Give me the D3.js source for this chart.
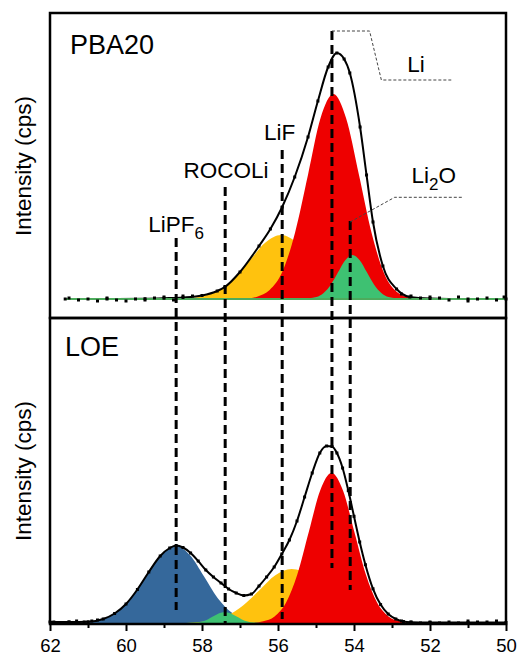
<!DOCTYPE html>
<html>
<head>
<meta charset="utf-8">
<script src="https://cdn.jsdelivr.net/npm/d3@7"></script>
<style>
  body { margin: 0; background: #fff; }
  text { font-family: "Liberation Sans", Arial, sans-serif; fill: #000; }
</style>
</head>
<body>
<div id="chart"></div>
<script>
// [binding energy (eV), intensity] pairs (arbitrary cps units)

// PBA20 - fitted components
const lifTop = [[58.79,0],[58.38,0.7],[57.97,2.8],[57.56,8.7],[57.15,20.8],[56.74,38.8],[56.33,56.5],[55.92,64],[55.51,56.5],[55.10,38.8],[54.69,20.8],[54.28,8.7],[53.87,2.8],[53.46,0.7],[53.05,0]];
const liTop = [[56.89,0],[56.55,2.3],[56.22,9],[55.88,27.7],[55.55,66.6],[55.21,124.3],[54.88,180.9],[54.54,205],[54.21,180.9],[53.87,124.3],[53.54,66.6],[53.20,25],[52.87,7],[52.53,1.5],[52.19,0]];
const li2oTop = [[55.37,0],[54.99,1.9],[54.80,6],[54.61,14.3],[54.42,26.7],[54.23,38.8],[54.04,44],[53.85,38.8],[53.66,26.7],[53.47,14.3],[53.28,6],[53.09,1.9],[52.71,0]];
// PBA20 - envelope
const fitTop = [[61.6,0],[60.5,0],[59.5,0.3],[59.0,0.8],[58.5,1.5],[58.0,3.5],[57.6,8],[57.4,12],[57.0,27],[56.5,53],[56.2,70],[55.89,92],[55.56,122],[55.21,162],[54.95,198],[54.68,232],[54.45,246],[54.26,240],[54.11,226],[53.84,172],[53.67,124],[53.5,77],[53.24,33],[52.88,10],[52.53,2],[52.0,0.5],[51.0,0],[50.0,0]];
// PBA20 - noisy raw counts in the flat regions
const rawTop = [[61.5,1],[61.25,-1],[61.0,0],[60.75,-2],[60.5,1],[60.25,-1],[60.0,-2],[59.75,0],[59.5,-1],[59.25,1],[59.0,2],[58.75,-1],[58.5,3],[58.25,3],[52.75,5],[52.5,3],[52.25,1],[52.0,2],[51.75,1],[51.5,-1],[51.25,2],[51.0,-2],[50.75,0],[50.5,1],[50.25,-1],[50.05,2]];

// LOE - fitted components
const lipf6Bot = [[61.45,0],[61.05,0.85],[60.66,3.4],[60.26,10.4],[59.87,25],[59.47,46.7],[59.08,68],[58.68,77],[58.32,68],[57.95,46.7],[57.59,25],[57.22,10.4],[56.86,3.4],[56.49,0.9],[56.13,0]];
const rocoliBot = [[58.45,0],[58.15,0.5],[58.0,1.5],[57.85,3.6],[57.7,6.7],[57.55,9.7],[57.4,11],[57.25,9.7],[57.1,6.7],[56.95,3.6],[56.8,1.5],[56.65,0.5],[56.35,0]];
const lifBot = [[58.62,0],[58.19,0.6],[57.77,2.4],[57.34,7.3],[56.92,17.5],[56.49,32.8],[56.07,47.7],[55.64,54],[55.14,47.7],[54.64,32.8],[54.14,17.5],[53.64,7.3],[53.14,2.4],[52.64,0.6],[52.14,0]];
const liBot = [[56.69,0],[56.39,1.7],[56.09,6.6],[55.79,20.3],[55.49,48.7],[55.19,91],[54.89,132.4],[54.59,150],[54.29,132.4],[53.99,91],[53.69,48.7],[53.39,20.3],[53.09,6.6],[52.79,1.7],[52.49,0]];
// LOE - envelope
const fitBot = [[62.0,1],[61.5,1],[61.0,1.2],[60.6,4],[60.3,9.5],[60.0,19],[59.7,33.5],[59.4,51],[59.1,67],[58.85,75],[58.68,77.5],[58.5,75.5],[58.3,70],[58.1,62],[57.9,53],[57.7,46],[57.5,40],[57.3,34],[57.1,30],[56.9,27.5],[56.7,29],[56.5,37],[56.3,46],[56.1,56],[55.9,69],[55.7,83],[55.5,102],[55.3,126],[55.1,150],[54.9,170],[54.72,177],[54.58,176.5],[54.45,170],[54.3,155],[54.15,132.4],[54.0,106.7],[53.85,81],[53.7,58.3],[53.5,34.2],[53.3,18.4],[53.1,9],[52.9,4],[52.7,1.5],[52.5,0.8],[52.0,0.5],[51.0,0.5],[50.0,0.5]];
const rawBot = [[61.9,1],[61.7,0],[61.5,1],[61.3,2],[61.1,1],[60.9,2],[60.75,3],[52.75,2],[52.5,1],[52.25,0],[52.0,1],[51.75,0],[51.5,1],[51.25,0],[51.0,2],[50.75,1],[50.5,1],[50.25,2]];

// reference peak positions (eV); top = where the dashed line starts in the upper panel,
// bottom = where it ends in the lower panel (intensity units of each panel)
const peakNames = ["LiPF6", "ROCOLi", "LiF", "Li", "Li2O"];
const peakEnergy = [58.68, 57.39, 55.89, 54.58, 54.10];
const peakTop = [61, 112, 149, 268, 78];
const peakBottom = [13, -1, 4, 55, 33];

const xTicks = [62, 60, 58, 56, 54, 52, 50];
const xMinor = [61, 59, 57, 55, 53, 51];

const colors = { LiPF6: "#35689b", ROCOLi: "#3ec172", LiF: "#ffc20e", Li: "#ee0000", Li2O: "#3ec172" };

const W = 517, H = 655;
const svg = d3.select("#chart").append("svg")
    .attr("width", W)
    .attr("height", H);

const x = d3.scaleLinear().domain([62, 50]).range([50, 506]);
const yTop = d3.scaleLinear().domain([-19, 286]).range([318, 13]);
const yBot = d3.scaleLinear().domain([-1, 305]).range([624, 318]);

function drawPanel(y, comps, fit, raw, baseLine) {
    const g = svg.append("g");
    const area = d3.area()
        .x(d => x(d[0]))
        .y0(y(0))
        .y1(d => y(Math.max(0, d[1])))
        .curve(d3.curveMonotoneX);
    comps.forEach(c => {
        g.append("path").datum(c.data).attr("d", area).attr("fill", c.color);
    });

    const line = d3.line()
        .x(d => x(d[0]))
        .y(d => y(d[1]))
        .curve(d3.curveMonotoneX);
    g.append("path").datum(fit)
        .attr("d", line)
        .attr("fill", "none")
        .attr("stroke", "#000")
        .attr("stroke-width", 2);

    if (baseLine) {
        g.append("line")
            .attr("x1", x(fit[0][0])).attr("x2", x(fit[fit.length - 1][0]))
            .attr("y1", y(0)).attr("y2", y(0))
            .attr("stroke", baseLine)
            .attr("stroke-width", 2);
    }

    // measured points
    g.selectAll("rect.pt").data(raw.concat(fit)).join("rect")
        .attr("class", "pt")
        .attr("x", d => x(d[0]) - 1.5)
        .attr("y", d => y(d[1]) - 1.5)
        .attr("width", 3)
        .attr("height", 3)
        .attr("fill", "#000");
}

drawPanel(yTop, [
    { data: lifTop, color: colors.LiF },
    { data: liTop, color: colors.Li },
    { data: li2oTop, color: colors.Li2O }
], fitTop, rawTop, "#4dab5c");

drawPanel(yBot, [
    { data: lipf6Bot, color: colors.LiPF6 },
    { data: lifBot, color: colors.LiF },
    { data: liBot, color: colors.Li },
    { data: rocoliBot, color: colors.ROCOLi }
], fitBot, rawBot, null);

// dashed reference lines running through both panels
svg.append("g").selectAll("line")
    .data(peakEnergy)
    .join("line")
    .attr("x1", d => x(d)).attr("x2", d => x(d))
    .attr("y1", (d, i) => yTop(peakTop[i]))
    .attr("y2", (d, i) => yBot(peakBottom[i]))
    .attr("stroke", "#000")
    .attr("stroke-width", 3)
    .attr("stroke-dasharray", "9,5");

// leader lines for Li and Li2O labels
const leader = d3.line().x(d => x(d[0])).y(d => yTop(d[1]));
const liLeader = [[54.58, 268], [53.59, 268], [53.28, 219], [51.44, 219]];
const li2oLeader = [[54.10, 77], [52.93, 101.7], [51.13, 101.7]];
[liLeader, li2oLeader].forEach(pts => {
    svg.append("path").datum(pts)
        .attr("d", leader)
        .attr("fill", "none")
        .attr("stroke", "#444")
        .attr("stroke-width", 1)
        .attr("stroke-dasharray", "3,2");
});

// frames
svg.append("rect").attr("x", 50).attr("y", 13).attr("width", 456).attr("height", 305)
    .attr("fill", "none").attr("stroke", "#000").attr("stroke-width", 2.5);
svg.append("rect").attr("x", 50).attr("y", 318).attr("width", 456).attr("height", 306)
    .attr("fill", "none").attr("stroke", "#000").attr("stroke-width", 2.5);

// x axis
const axis = svg.append("g")
    .attr("transform", "translate(0,624)")
    .call(d3.axisBottom(x).tickValues(xTicks).tickSize(7).tickPadding(8).tickFormat(d3.format("d")));
axis.select(".domain").remove();
axis.selectAll(".tick line").attr("stroke-width", 2);
axis.selectAll("text")
    .style("font-family", "'Liberation Sans', Arial, sans-serif")
    .style("font-size", "18.5px")
    .attr("fill", "#000");

const minor = svg.append("g")
    .attr("transform", "translate(0,624)")
    .call(d3.axisBottom(x).tickValues(xMinor).tickSize(4).tickFormat(""));
minor.select(".domain").remove();
minor.selectAll(".tick line").attr("stroke-width", 2);

// panel names and y titles
svg.append("text").attr("x", 70).attr("y", 54).style("font-size", "27px").text("PBA20");
svg.append("text").attr("x", 65).attr("y", 356).style("font-size", "27px").text("LOE");

[166, 471].forEach(cy => {
    svg.append("text")
        .attr("transform", `translate(31,${cy}) rotate(-90)`)
        .attr("text-anchor", "middle")
        .style("font-size", "22.5px")
        .text("Intensity (cps)");
});

// peak labels
function label(px, py, parts) {
    const t = svg.append("text")
        .attr("x", px).attr("y", py)
        .attr("text-anchor", "middle")
        .style("font-size", "22.5px");
    parts.forEach(p => {
        const s = t.append("tspan").text(p.t);
        if (p.sub) s.attr("dy", 7).style("font-size", "17px");
        if (p.up) s.attr("dy", -7);
    });
}
label(x(58.68), yTop(67), [{ t: "LiPF" }, { t: "6", sub: true }]);
label(x(57.37), yTop(121), [{ t: "ROCOLi" }]);
label(x(55.96), yTop(159), [{ t: "LiF" }]);
label(x(52.37), yTop(227), [{ t: "Li" }]);
label(x(51.90), yTop(116), [{ t: "Li" }, { t: "2", sub: true }, { t: "O", up: true }]);
</script>
</body>
</html>
